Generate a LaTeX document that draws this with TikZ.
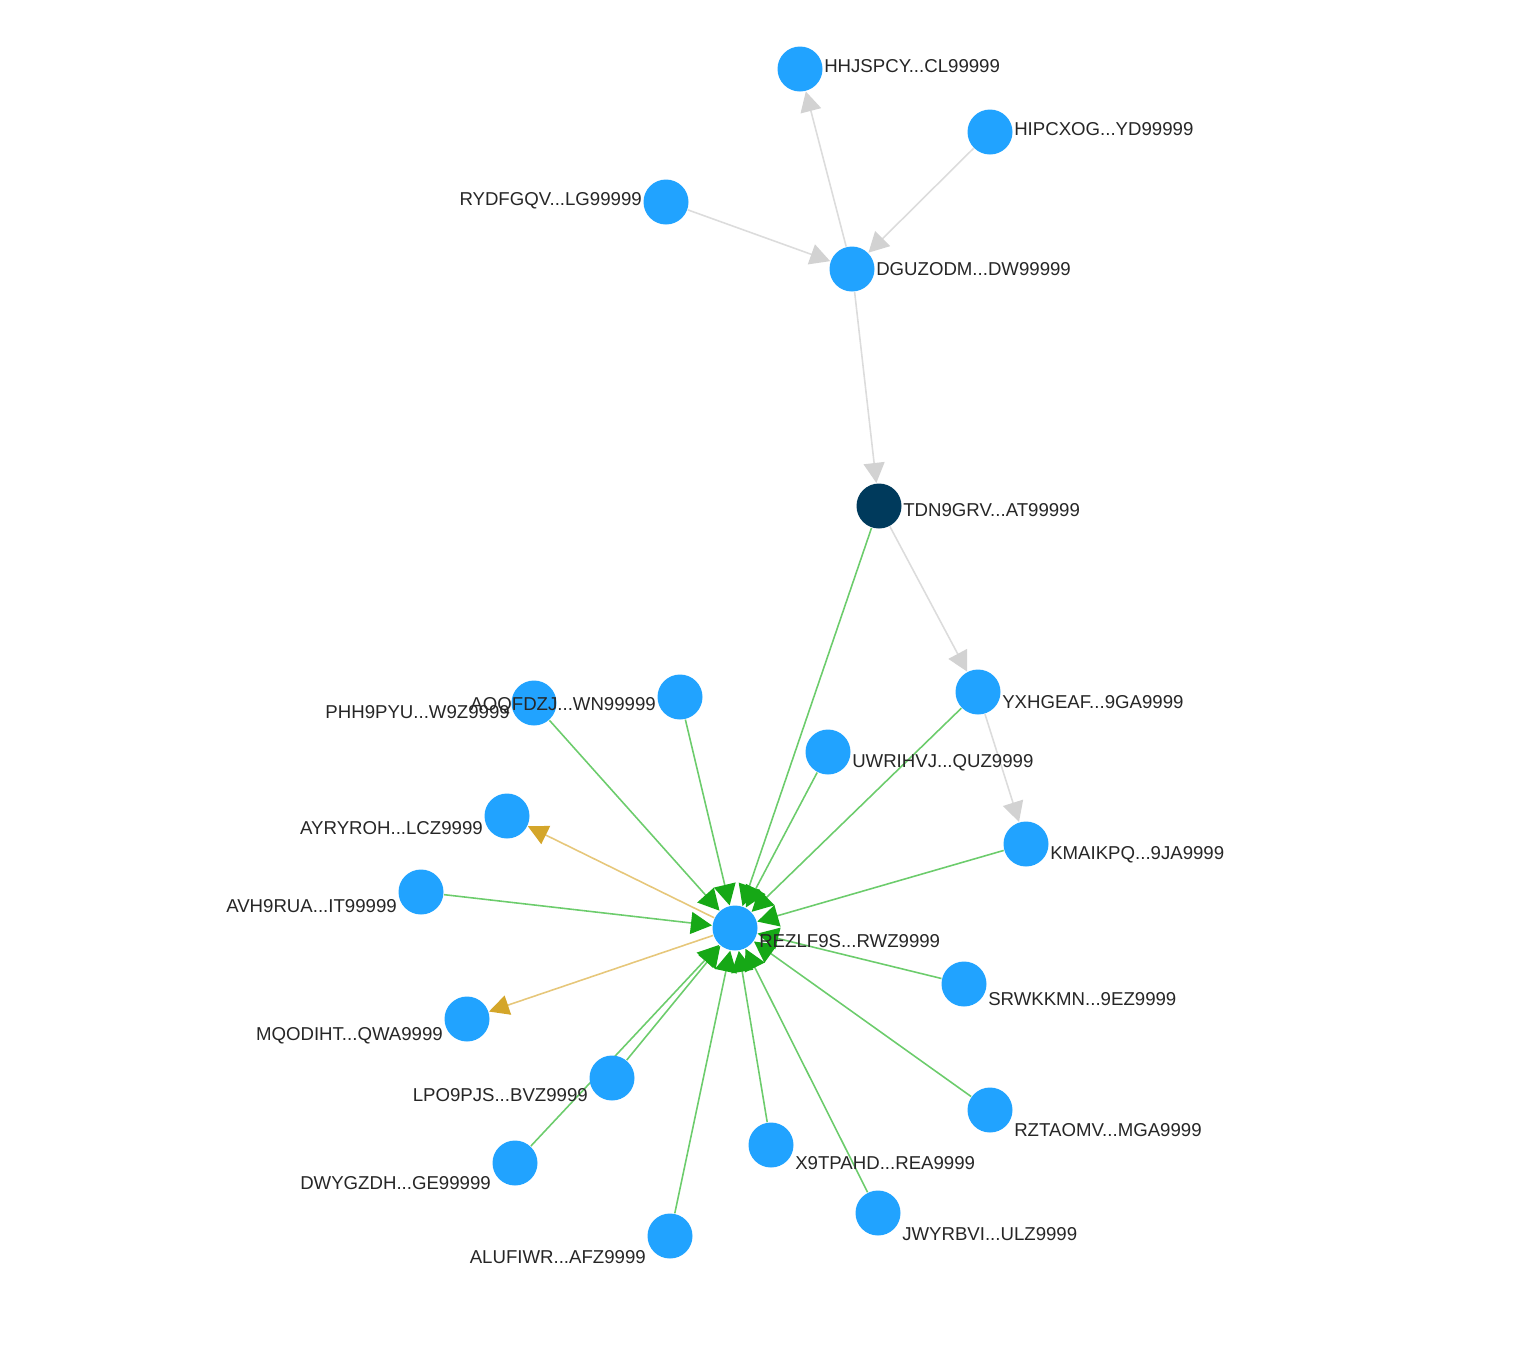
\documentclass[tikz,border=0pt]{standalone}
\usepackage{fontspec}
\setmainfont{Liberation Sans}
\usetikzlibrary{arrows.meta,backgrounds}

\definecolor{vblue}{HTML}{21A3FF}
\definecolor{vdark}{HTML}{003A5C}
\definecolor{linegrey}{HTML}{DCDCDC}
\definecolor{arrgrey}{HTML}{D2D2D2}
\definecolor{linegreen}{HTML}{6CCC6C}
\definecolor{arrgreen}{HTML}{16A816}
\definecolor{linegold}{HTML}{E6C77A}
\definecolor{arrgold}{HTML}{D4A62A}

\begin{document}
\begin{tikzpicture}[
        vtx/.style={circle, fill=vblue, minimum size=0.45cm, inner sep=0pt},
        root/.style={vtx, fill=vdark},
        lbl/.style={font=\fontsize{5.3}{6.4}\selectfont, text=black!85, inner xsep=0.1pt, inner ysep=0.4pt},
        greylink/.style={draw=linegrey, line width=0.45pt, -{Triangle[length=0.2cm, width=0.21cm, color=arrgrey]}},
        inlink/.style={draw=linegreen, line width=0.45pt, -{Triangle[length=0.21cm, width=0.22cm, color=arrgreen]}},
        outlink/.style={draw=linegold, line width=0.45pt, -{Triangle[length=0.2cm, width=0.2cm, color=arrgold]}}]

    \useasboundingbox (0,0) rectangle (15.26,-13.5);

    % vertices
    \node[vtx] (hhj) at (8.00,-0.69) {};
    \node[vtx] (hip) at (9.90,-1.32) {};
    \node[vtx] (ryd) at (6.66,-2.02) {};
    \node[vtx] (dgu) at (8.52,-2.69) {};
    \node[root] (tdn) at (8.79,-5.06) {};
    \node[vtx] (yxh) at (9.78,-6.92) {};
    \node[vtx] (phh) at (5.34,-7.03) {};
    \node[vtx] (aoq) at (6.80,-6.97) {};
    \node[vtx] (uwr) at (8.28,-7.52) {};
    \node[vtx] (ayr) at (5.07,-8.16) {};
    \node[vtx] (kma) at (10.26,-8.44) {};
    \node[vtx] (avh) at (4.21,-8.92) {};
    \node[vtx] (rez) at (7.35,-9.28) {};
    \node[vtx] (srw) at (9.64,-9.84) {};
    \node[vtx] (mqo) at (4.67,-10.19) {};
    \node[vtx] (lpo) at (6.12,-10.78) {};
    \node[vtx] (rzt) at (9.90,-11.10) {};
    \node[vtx] (dwy) at (5.15,-11.63) {};
    \node[vtx] (x9t) at (7.71,-11.45) {};
    \node[vtx] (jwy) at (8.78,-12.13) {};
    \node[vtx] (alu) at (6.70,-12.36) {};

    % labels
    \node[lbl, anchor=west, yshift=0.03cm] (lhhj) at (hhj.east) {HHJSPCY...CL99999};
    \node[lbl, anchor=west, yshift=0.03cm] (lhip) at (hip.east) {HIPCXOG...YD99999};
    \node[lbl, anchor=east, yshift=0.01cm] (lryd) at (ryd.west) {RYDFGQV...LG99999};
    \node[lbl, anchor=west] (ldgu) at (dgu.east) {DGUZODM...DW99999};
    \node[lbl, anchor=west, yshift=-0.04cm] (ltdn) at (tdn.east) {TDN9GRV...AT99999};
    \node[lbl, anchor=west, yshift=-0.10cm] (lyxh) at (yxh.east) {YXHGEAF...9GA9999};
    \node[lbl, anchor=east, yshift=-0.09cm] (lphh) at (phh.west) {PHH9PYU...W9Z9999};
    \node[lbl, anchor=east, yshift=-0.09cm] (laoq) at (aoq.west) {AOQFDZJ...WN99999};
    \node[lbl, anchor=west, yshift=-0.11cm] (luwr) at (uwr.east) {UWRIHVJ...QUZ9999};
    \node[lbl, anchor=east, yshift=-0.12cm] (layr) at (ayr.west) {AYRYROH...LCZ9999};
    \node[lbl, anchor=west, yshift=-0.11cm] (lkma) at (kma.east) {KMAIKPQ...9JA9999};
    \node[lbl, anchor=east, yshift=-0.14cm] (lavh) at (avh.west) {AVH9RUA...IT99999};
    \node[lbl, anchor=west, yshift=-0.13cm] (lrez) at (rez.east) {REZLF9S...RWZ9999};
    \node[lbl, anchor=west, yshift=-0.15cm] (lsrw) at (srw.east) {SRWKKMN...9EZ9999};
    \node[lbl, anchor=east, yshift=-0.17cm] (lmqo) at (mqo.west) {MQODIHT...QWA9999};
    \node[lbl, anchor=east, yshift=-0.17cm] (llpo) at (lpo.west) {LPO9PJS...BVZ9999};
    \node[lbl, anchor=west, yshift=-0.20cm] (lrzt) at (rzt.east) {RZTAOMV...MGA9999};
    \node[lbl, anchor=east, yshift=-0.20cm] (ldwy) at (dwy.west) {DWYGZDH...GE99999};
    \node[lbl, anchor=west, yshift=-0.18cm] (lx9t) at (x9t.east) {X9TPAHD...REA9999};
    \node[lbl, anchor=west, yshift=-0.21cm] (ljwy) at (jwy.east) {JWYRBVI...ULZ9999};
    \node[lbl, anchor=east, yshift=-0.21cm] (lalu) at (alu.west) {ALUFIWR...AFZ9999};

    \begin{scope}[on background layer]
        % grey chain
        \draw[greylink] (dgu) -- (hhj);
        \draw[greylink] (hip) -- (dgu);
        \draw[greylink] (ryd) -- (dgu);
        \draw[greylink] (dgu) -- (tdn);
        \draw[greylink] (tdn) -- (yxh);
        \draw[greylink] (yxh) -- (kma);

        % green links into the hub
        \draw[inlink] (tdn) -- (rez);
        \draw[inlink] (phh) -- (rez);
        \draw[inlink] (aoq) -- (rez);
        \draw[inlink] (uwr) -- (rez);
        \draw[inlink] (yxh) -- (rez);
        \draw[inlink] (kma) -- (rez);
        \draw[inlink] (avh) -- (rez);
        \draw[inlink] (srw) -- (rez);
        \draw[inlink] (rzt) -- (rez);
        \draw[inlink] (jwy) -- (rez);
        \draw[inlink] (x9t) -- (rez);
        \draw[inlink] (alu) -- (rez);
        \draw[inlink] (lpo) -- (rez);
        \draw[inlink] (dwy) -- (rez);

        % gold links out of the hub
        \draw[outlink] (rez) -- (ayr);
        \draw[outlink] (rez) -- (mqo);
    \end{scope}
\end{tikzpicture}
\end{document}
